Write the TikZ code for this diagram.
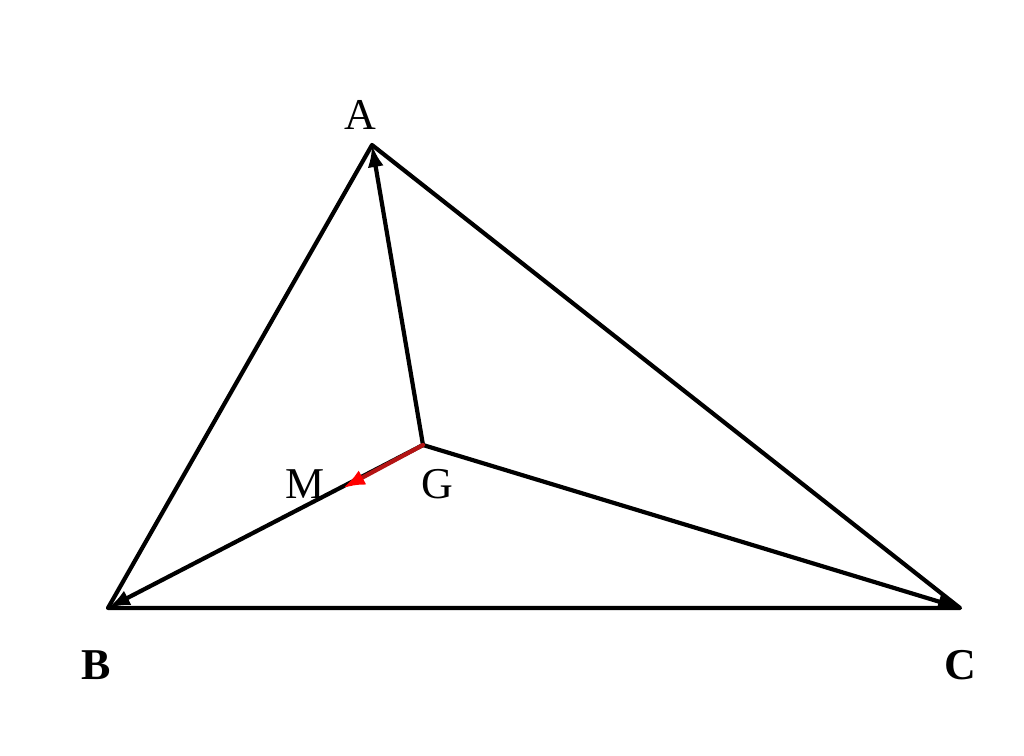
\documentclass[tikz,border=0pt]{standalone}
\usepackage{fontspec}
\setmainfont{Liberation Serif}
\usetikzlibrary{arrows.meta}
\definecolor{darkred}{RGB}{180,20,20}
\begin{document}
\begin{tikzpicture}[x=1pt,y=-1pt,
  edge/.style={line width=4.2pt,line cap=round,line join=round},
  vec/.style={edge,-{Latex[length=22pt,width=16pt]}},
  lbl/.style={font=\fontsize{44}{50}\selectfont,inner sep=0pt}]
\useasboundingbox (0,0) rectangle (1024,755);
\coordinate (A) at (372,145);
\coordinate (B) at (108,608);
\coordinate (C) at (960,608);
\coordinate (G) at (423,445);
\coordinate (M) at (343,488);
\draw[edge] (A) -- (B) -- (C) -- cycle;
\draw[vec] (G) -- (A);
\draw[vec] (G) -- (C);
\draw[vec] (G) -- (B);
\draw[edge,darkred,-{Latex[length=22pt,width=16pt,fill=red,color=red]}] (G) -- (M);
\node[lbl] (lA) at (360,115) {A};
\node[lbl] (lB) at (96,665) {\textbf{B}};
\node[lbl] (lC) at (960,665) {\textbf{C}};
\node[lbl] (lM) at (305,484) {M};
\node[lbl] (lG) at (437,484) {G};
\end{tikzpicture}
\end{document}
